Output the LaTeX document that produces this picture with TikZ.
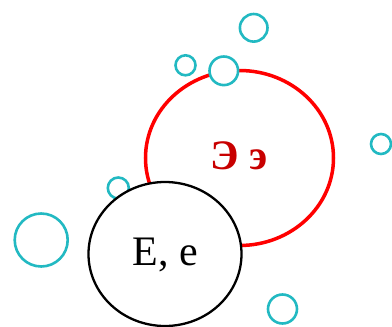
\documentclass[tikz,border=0pt]{standalone}
\usepackage{fontspec}
\setmainfont{Liberation Serif}
\usetikzlibrary{shapes.geometric}
\definecolor{bub}{HTML}{22B9C2}
\definecolor{txtred}{HTML}{C80000}
\tikzset{
  bubble/.style={circle,draw=bub,line width=2.6pt,fill=white,inner sep=0pt},
  bigring/.style={ellipse,draw=red,line width=3.5pt,inner sep=0pt,minimum width=188pt,minimum height=175pt},
  blackring/.style={ellipse,draw=black,line width=2.3pt,fill=white,inner sep=0pt,minimum width=153pt,minimum height=144pt},
}
\begin{document}
\begin{tikzpicture}[x=1pt,y=-1pt]
\useasboundingbox (0,0) rectangle (392,327);
\node[bigring] (red) at (239.5,158) {};
\node[text=txtred,font=\fontsize{42}{44}\selectfont\bfseries] (redtxt) at (239,156) {Э э};
\node[bubble,minimum size=27.6pt] (b1) at (253.7,27.8) {};
\node[bubble,minimum size=20pt] (b2) at (185.5,65.3) {};
\node[bubble,minimum size=28.6pt] (b3) at (223.8,70.8) {};
\node[bubble,minimum size=20pt] (b4) at (381,144) {};
\node[bubble,minimum size=21pt] (b5) at (118.3,188) {};
\node[bubble,minimum size=53pt] (b6) at (41.2,240) {};
\node[bubble,minimum size=29pt] (b7) at (282.5,309) {};
\node[blackring] (blk) at (165,254) {};
\node[font=\fontsize{42}{44}\selectfont] (blktxt) at (165,254.5) {E, e};
\end{tikzpicture}
\end{document}
